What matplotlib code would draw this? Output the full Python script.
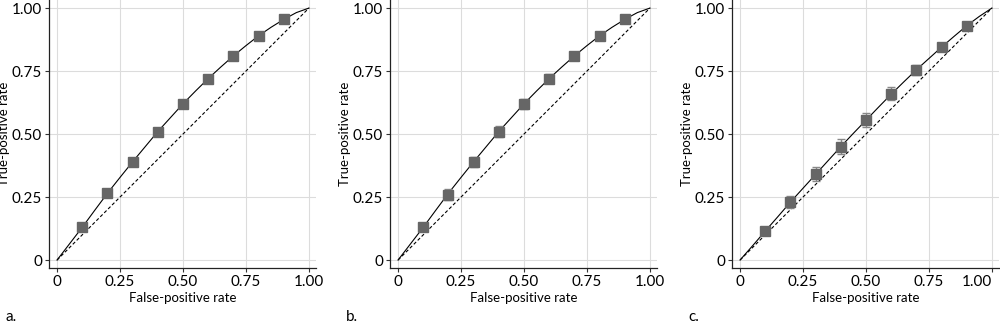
import numpy as np
import matplotlib
matplotlib.use("Agg")
import matplotlib.pyplot as plt

plt.rcParams["font.family"] = ["Lato", "DejaVu Sans"]

# observed operating points (false-positive rate, true-positive rate, +/- error)
fpr = [0.1, 0.2, 0.3, 0.4, 0.5, 0.6, 0.7, 0.8, 0.9]
tpr_a = [0.13, 0.265, 0.39, 0.51, 0.62, 0.72, 0.81, 0.89, 0.955]
err_a = [0.008, 0.01, 0.01, 0.01, 0.01, 0.01, 0.008, 0.006, 0.004]
tpr_b = [0.13, 0.26, 0.39, 0.51, 0.62, 0.72, 0.81, 0.89, 0.955]
err_b = [0.01, 0.02, 0.02, 0.02, 0.02, 0.018, 0.015, 0.01, 0.006]
tpr_c = [0.115, 0.23, 0.34, 0.45, 0.555, 0.66, 0.755, 0.845, 0.93]
err_c = [0.013, 0.025, 0.028, 0.03, 0.028, 0.025, 0.02, 0.014, 0.008]

# fitted ROC curves
curve_x = [0, 0.05, 0.1, 0.15, 0.2, 0.25, 0.3, 0.35, 0.4, 0.45, 0.5,
           0.55, 0.6, 0.65, 0.7, 0.75, 0.8, 0.85, 0.9, 0.95, 1.0]
curve_a = [0, 0.065, 0.13, 0.198, 0.265, 0.328, 0.39, 0.45, 0.51, 0.565, 0.62,
           0.671, 0.72, 0.766, 0.81, 0.851, 0.89, 0.924, 0.955, 0.982, 1.0]
curve_b = curve_a
curve_c = [0, 0.057, 0.115, 0.172, 0.23, 0.285, 0.34, 0.395, 0.45, 0.503, 0.555,
           0.607, 0.658, 0.707, 0.755, 0.8, 0.845, 0.888, 0.93, 0.967, 1.0]

panels = [
    ("a.", tpr_a, err_a, curve_a, 0.049),
    ("b.", tpr_b, err_b, curve_b, 0.390),
    ("c.", tpr_c, err_c, curve_c, 0.732),
]

fig = plt.figure(figsize=(10, 3.31), dpi=100)
ticks = [0, 0.25, 0.5, 0.75, 1.0]
ticklabels = ["0", "0.25", "0.50", "0.75", "1.00"]

for label, tpr, err, curve, left in panels:
    ax = fig.add_axes([left, 0.19, 0.267, 0.81])
    ax.set_xlim(-0.032, 1.028)
    ax.set_ylim(-0.032, 1.032)
    ax.grid(True, color="#dcdcdc", linewidth=0.8)
    ax.set_axisbelow(True)

    ax.plot([0, 1], [0, 1], color="black", linestyle=(0, (3, 2)), linewidth=0.8)
    ax.plot(curve_x, curve, color="black", linewidth=0.8)
    ax.errorbar(fpr, tpr, yerr=err, fmt="s", color="#666666", ecolor="#888888",
                markersize=6.5, elinewidth=1.0, capsize=3, capthick=1.0, zorder=3)

    ax.set_xticks(ticks)
    ax.set_xticklabels(ticklabels)
    ax.set_yticks(ticks)
    ax.set_yticklabels(ticklabels)
    ax.tick_params(labelsize=11, length=3, width=0.8, color="#333333", pad=2)
    for side in ["top", "right"]:
        ax.spines[side].set_visible(False)
    for side in ["left", "bottom"]:
        ax.spines[side].set_color("#222222")
        ax.spines[side].set_linewidth(0.9)

    if label == "c.":
        # keep the last tick label inside the figure
        ax.get_xticklabels()[-1].set_ha("right")

    ax.set_xlabel("False-positive rate", fontsize=9.5, labelpad=2)
    ax.set_ylabel("True-positive rate", fontsize=9.5, labelpad=1)

    fig.text(left - 0.044, 0.02, label, fontsize=11, ha="left", va="bottom")

fig.savefig("out.png", dpi=100)
